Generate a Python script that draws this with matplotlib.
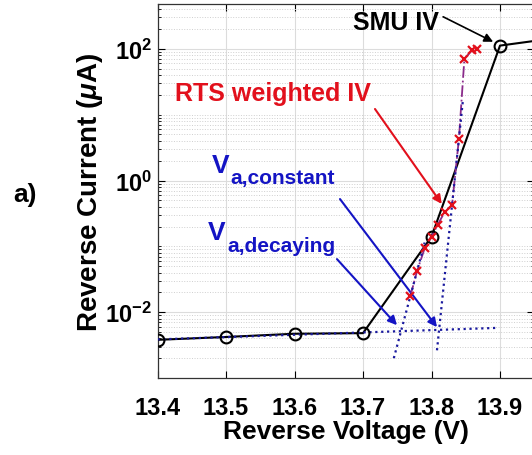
import numpy as np
import matplotlib.pyplot as plt
from matplotlib.ticker import FixedLocator, FuncFormatter, NullFormatter

plt.rcParams['font.family'] = 'Liberation Sans'
plt.rcParams['font.weight'] = 'bold'
plt.rcParams['mathtext.fontset'] = 'custom'
plt.rcParams['mathtext.rm'] = 'Liberation Sans:bold'
plt.rcParams['mathtext.bf'] = 'Liberation Sans:bold'
plt.rcParams['mathtext.it'] = 'Liberation Sans:italic:bold'

# SMU sweep (V, uA)
smu_v = [13.4, 13.5, 13.6, 13.7, 13.8, 13.9, 14.0]
smu_i = [0.0038, 0.0042, 0.0047, 0.0048, 0.14, 112, 155]

# RTS weighted IV points
rts_v = [13.769, 13.779, 13.790, 13.800, 13.809, 13.819, 13.830,
         13.840, 13.848, 13.859, 13.866]
rts_i = [0.0173, 0.0425, 0.093, 0.140, 0.213, 0.328, 0.424,
         4.27, 70, 94.6, 98]

xticks = [13.4, 13.5, 13.6, 13.7, 13.8, 13.9]

navy = '#1a1a9e'
red = '#e2101c'
blue = '#1414c4'
purple = '#8a2a8a'

fig = plt.figure(figsize=(5.32, 4.56), dpi=100)
ax = fig.add_axes([157.5 / 532, 77 / 456, 376.75 / 532, 374 / 456])

# grid first so everything sits on top
ax.set_yscale('log')
ax.grid(True, which='major', color='#dcdcdc', lw=0.8, ls='-')
ax.grid(True, which='minor', axis='y', color='#cfcfcf', lw=0.7, ls=':')
ax.set_axisbelow(True)

# measured SMU IV
ax.plot(smu_v, smu_i, '-', color='black', lw=1.5, zorder=3)
ax.plot(smu_v, smu_i, 'o', mfc='none', mec='black', mew=1.5, ms=8.5, zorder=5)

# RTS weighted IV
ax.plot(rts_v, rts_i, '-.', color=purple, lw=1.3, zorder=4)
ax.plot(rts_v, rts_i, 'x', color=red, mew=1.6, ms=6, zorder=6)

# leakage floor fitted to the first four SMU points
floor = np.polyfit(smu_v[:4], np.log10(smu_i[:4]), 1)
floor_v = np.array([13.4, 13.895])
ax.plot(floor_v, 10 ** np.polyval(floor, floor_v), ':', color=navy, lw=1.6, zorder=4)

# breakdown slopes for the decaying and constant cases
dec = np.polyfit(rts_v[:2], np.log10(rts_i[:2]), 1)
dec_v = np.array([13.745, 13.79])
ax.plot(dec_v, 10 ** np.polyval(dec, dec_v), ':', color=navy, lw=1.6, zorder=4)

con = np.polyfit(rts_v[6:8], np.log10(rts_i[6:8]), 1)
con_v = np.array([13.808, 13.846])
ax.plot(con_v, 10 ** np.polyval(con, con_v), ':', color=navy, lw=1.6, zorder=4)

ax.set_xlim(13.4, 13.95)
ax.set_ylim(1e-3, 480)

ax.xaxis.set_major_locator(FixedLocator(xticks))
ax.xaxis.set_major_formatter(FuncFormatter(lambda v, p: '%.1f' % v))
ax.yaxis.set_major_locator(FixedLocator([1e-2, 1e0, 1e2]))
ax.yaxis.set_major_formatter(FuncFormatter(
    lambda v, p: r'$\mathbf{10^{%d}}$' % round(np.log10(v))))
minors = [m * 10.0 ** e for e in range(-3, 3) for m in range(1, 10)
          if not (m == 1 and e % 2 == 0)]
ax.yaxis.set_minor_locator(FixedLocator(minors))
ax.yaxis.set_minor_formatter(NullFormatter())

ax.tick_params(which='both', direction='in', top=True, right=True)
ax.tick_params(which='major', length=5, width=0.8)
ax.tick_params(which='minor', length=2.5, width=0.6)
ax.tick_params(axis='x', pad=13, labelsize=17)
ax.tick_params(axis='y', pad=4, labelsize=17)
for s in ax.spines.values():
    s.set_linewidth(0.9)
    s.set_color('#333333')

ax.set_xlabel('Reverse Voltage (V)', fontsize=19, fontweight='bold', labelpad=0)
ax.set_ylabel(r'Reverse Current ($\mathit{\mu}$A)', fontsize=20, fontweight='bold',
              labelpad=0)

# annotations
arrow = dict(arrowstyle='-|>', lw=1.5, mutation_scale=13, shrinkA=0, shrinkB=0)

ax.text(13.748, 257, 'SMU IV', fontsize=18, fontweight='bold', color='black',
        ha='center', va='center')
ax.annotate('', xy=(13.890, 128), xytext=(13.817, 307),
            arrowprops=dict(arrow, color='black', lw=1.2))

ax.text(13.5686, 21.4, 'RTS weighted IV', fontsize=18, fontweight='bold', color=red,
        ha='center', va='center')
ax.annotate('', xy=(13.815, 0.44), xytext=(13.7175, 12.2),
            arrowprops=dict(arrow, color=red))

ax.text(13.4796, 1.346, 'V', fontsize=19, fontweight='bold', color=blue,
        ha='left', va='baseline')
ax.text(13.5058, 0.916, 'a,constant', fontsize=15, fontweight='bold', color=blue,
        ha='left', va='baseline')
ax.annotate('', xy=(13.808, 0.00592), xytext=(13.6664, 0.523),
            arrowprops=dict(arrow, color=blue))

ax.text(13.4737, 0.129, 'V', fontsize=19, fontweight='bold', color=blue,
        ha='left', va='baseline')
ax.text(13.5015, 0.0847, 'a,decaying', fontsize=15, fontweight='bold', color=blue,
        ha='left', va='baseline')
ax.annotate('', xy=(13.7496, 0.00634), xytext=(13.662, 0.064),
            arrowprops=dict(arrow, color=blue))

fig.text(25 / 532, 1 - 195 / 456, 'a)', fontsize=19, fontweight='bold',
         ha='center', va='center')

fig.savefig('out.png', dpi=100)
